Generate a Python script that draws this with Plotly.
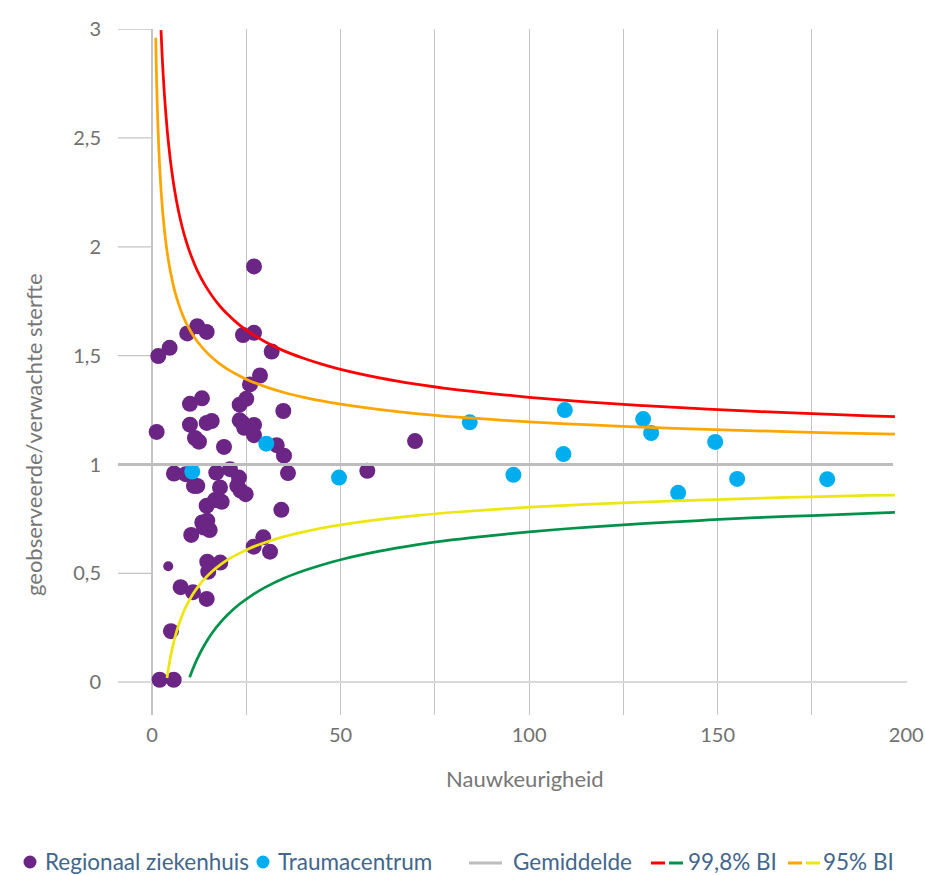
import plotly.graph_objects as go

# ---------------- data ----------------
regional_x = [9.36, 12.02, 14.51, 4.69, 1.67, 24.14, 27.06, 27.06, 31.75, 28.65,
              25.99, 25.01, 23.26, 13.26, 10.08, 34.83, 15.84, 14.51, 10.08, 23.26,
              23.95, 24.48, 27.06, 27.06, 1.25, 11.41, 12.47, 19.10, 33.08, 35.01,
              36.07, 5.84, 8.94, 17.06, 20.69, 23.08, 11.14, 12.02, 18.04, 22.63,
              23.53, 24.85, 14.51, 16.71, 18.49, 34.30, 13.34, 14.67, 13.79, 15.31,
              10.42, 29.52, 26.98, 31.30, 14.67, 18.12, 14.93, 4.32, 7.61, 10.88,
              14.51, 5.04, 2.04, 5.76, 57.11, 69.76]
regional_y = [1.602, 1.635, 1.609, 1.536, 1.498, 1.595, 1.605, 1.910, 1.519, 1.409,
              1.368, 1.302, 1.275, 1.304, 1.279, 1.246, 1.200, 1.191, 1.183, 1.203,
              1.192, 1.169, 1.182, 1.135, 1.150, 1.122, 1.105, 1.081, 1.089, 1.041,
              0.961, 0.959, 0.956, 0.963, 0.979, 0.940, 0.902, 0.902, 0.895, 0.902,
              0.880, 0.864, 0.811, 0.837, 0.829, 0.792, 0.734, 0.742, 0.711, 0.699,
              0.677, 0.666, 0.623, 0.600, 0.554, 0.550, 0.508, 0.533, 0.437, 0.414,
              0.383, 0.235, 0.012, 0.012, 0.971, 1.108]
small_point = 57  # the one marker drawn smaller in the reference

trauma_x = [10.69, 30.32, 49.60, 84.27, 95.84, 109.10, 109.47, 130.24, 132.36,
            139.52, 149.34, 155.17, 179.05]
trauma_y = [0.968, 1.096, 0.940, 1.194, 0.953, 1.048, 1.250, 1.209, 1.145,
            0.870, 1.104, 0.934, 0.933]

mean_x = [-9.0, 196.5]
mean_y = [1.0, 1.0]

up998_x = [2.4, 2.7, 3, 3.5, 4, 4.5, 5, 5.5, 6, 7, 8, 9, 10, 11, 12, 14, 16, 18, 20,
           23, 26, 30, 35, 40, 45, 50, 60, 70, 80, 90, 100, 115, 130, 145, 160, 175,
           190, 197]
up998_y = [2.995, 2.880, 2.784, 2.652, 2.545, 2.457, 2.382, 2.318, 2.261, 2.168,
           2.092, 2.030, 1.977, 1.932, 1.892, 1.826, 1.773, 1.728, 1.691, 1.644,
           1.606, 1.564, 1.522, 1.489, 1.461, 1.437, 1.399, 1.369, 1.345, 1.326,
           1.309, 1.288, 1.271, 1.257, 1.244, 1.234, 1.224, 1.220]
lo998_x = [10, 11, 12, 14, 16, 18, 20, 23, 26, 30, 35, 40, 45, 50, 60, 70, 80, 90,
           100, 115, 130, 145, 160, 175, 190, 197]
lo998_y = [0.023, 0.068, 0.108, 0.174, 0.228, 0.272, 0.309, 0.356, 0.394, 0.436,
           0.478, 0.511, 0.539, 0.563, 0.601, 0.631, 0.655, 0.674, 0.691, 0.712,
           0.729, 0.743, 0.756, 0.766, 0.776, 0.780]
up95_x = [1.0, 1.2, 1.4, 1.6, 1.8, 2, 2.3, 2.6, 3, 3.5, 4, 4.5, 5, 5.5, 6, 7, 8, 9,
          10, 11, 12, 14, 16, 18, 20, 23, 26, 30, 35, 40, 45, 50, 60, 70, 80, 90,
          100, 115, 130, 145, 160, 175, 190, 197]
up95_y = [2.960, 2.789, 2.657, 2.550, 2.461, 2.386, 2.292, 2.216, 2.132, 2.048,
          1.980, 1.924, 1.877, 1.836, 1.800, 1.741, 1.693, 1.653, 1.620, 1.591,
          1.566, 1.524, 1.490, 1.462, 1.438, 1.409, 1.384, 1.358, 1.331, 1.310,
          1.292, 1.277, 1.253, 1.234, 1.219, 1.207, 1.196, 1.183, 1.172, 1.163,
          1.155, 1.148, 1.142, 1.140]
lo95_x = [4, 4.5, 5, 5.5, 6, 7, 8, 9, 10, 11, 12, 14, 16, 18, 20, 23, 26, 30, 35,
          40, 45, 50, 60, 70, 80, 90, 100, 115, 130, 145, 160, 175, 190, 197]
lo95_y = [0.020, 0.076, 0.123, 0.164, 0.200, 0.259, 0.307, 0.347, 0.380, 0.409,
          0.434, 0.476, 0.510, 0.538, 0.562, 0.591, 0.616, 0.642, 0.669, 0.690,
          0.708, 0.723, 0.747, 0.766, 0.781, 0.793, 0.804, 0.817, 0.828, 0.837,
          0.845, 0.852, 0.858, 0.860]

y_tickvals = [0, 0.5, 1, 1.5, 2, 2.5, 3]
y_ticktext = ["0", "0,5", "1", "1,5", "2", "2,5", "3"]
x_tickvals = [0, 50, 100, 150, 200]
x_ticktext = ["0", "50", "100", "150", "200"]
x_minor_grid = [25, 75, 125, 175]

legend_labels = ["Regionaal ziekenhuis", "Traumacentrum", "Gemiddelde",
                 "99,8% BI", "95% BI"]

# ---------------- styles ----------------
PURPLE = "#6b2584"
CYAN = "#00aeef"
RED = "#ff0000"
GREEN = "#00924a"
ORANGE = "#ffa500"
YELLOW = "#ede611"
MEANC = "#bdbdbd"
GRID = "#c4c4c4"
FONT = "Lato"
TICKC = "#707070"
TITLEC = "#777777"
LEGC = "#42668c"

XMIN, XMAX = -9.0, 200.2
YMIN, YMAX = -0.15, 3.0
L, R, T, B = 118, 18, 29, 160
W, H = 925, 875
PW, PH = W - L - R, H - T - B

fig = go.Figure()

sizes = [16] * len(regional_x)
sizes[small_point] = 10
fig.add_trace(go.Scatter(x=regional_x, y=regional_y, mode="markers",
                         marker=dict(color=PURPLE, size=sizes, opacity=1, line=dict(width=0)),
                         name=legend_labels[0], showlegend=False))
fig.add_trace(go.Scatter(x=trauma_x, y=trauma_y, mode="markers",
                         marker=dict(color=CYAN, size=16, opacity=1, line=dict(width=0)),
                         name=legend_labels[1], showlegend=False))
fig.add_trace(go.Scatter(x=mean_x, y=mean_y, mode="lines",
                         line=dict(color=MEANC, width=3), showlegend=False))
for xs, ys, c in [(up998_x, up998_y, RED), (lo998_x, lo998_y, GREEN),
                  (up95_x, up95_y, ORANGE), (lo95_x, lo95_y, YELLOW)]:
    fig.add_trace(go.Scatter(x=xs, y=ys, mode="lines",
                             line=dict(color=c, width=2.75, shape="spline", smoothing=1.0),
                             showlegend=False))

shapes = []
# short horizontal tick marks left of the vertical axis
for v in y_tickvals[1:]:
    shapes.append(dict(type="line", xref="x", yref="y", x0=XMIN, x1=0, y0=v, y1=v,
                       line=dict(color=GRID, width=1.3), layer="below"))


def px2paper_x(px):
    return (px - L) / PW


def px2paper_y(py):
    return (H - B - py) / PH


annotations = []
# axis titles
annotations.append(dict(text="geobserveerde/verwachte sterfte", xref="paper", yref="paper",
                        x=px2paper_x(33), y=px2paper_y(435), textangle=-90,
                        showarrow=False, xanchor="center", yanchor="middle",
                        font=dict(family=FONT, size=22, color=TITLEC)))
annotations.append(dict(text="Nauwkeurigheid", xref="paper", yref="paper",
                        x=px2paper_x(525), y=px2paper_y(778),
                        showarrow=False, xanchor="center", yanchor="middle",
                        font=dict(family=FONT, size=22, color=TITLEC)))

# manual legend
LY = 861


def circle(cx, color, r=6.5):
    shapes.append(dict(type="circle", xref="paper", yref="paper",
                       x0=px2paper_x(cx - r), x1=px2paper_x(cx + r),
                       y0=px2paper_y(LY + r + 1), y1=px2paper_y(LY - r + 1),
                       fillcolor=color, line=dict(width=0)))


def seg(x0, x1, color, w=3):
    shapes.append(dict(type="line", xref="paper", yref="paper",
                       x0=px2paper_x(x0), x1=px2paper_x(x1),
                       y0=px2paper_y(LY + 2), y1=px2paper_y(LY + 2),
                       line=dict(color=color, width=w)))


def label(px, text):
    annotations.append(dict(text=text, xref="paper", yref="paper",
                            x=px2paper_x(px), y=px2paper_y(LY), showarrow=False,
                            xanchor="left", yanchor="middle",
                            font=dict(family=FONT, size=22.5, color=LEGC)))


circle(30, PURPLE)
label(43, legend_labels[0])
circle(263, CYAN)
label(276, legend_labels[1])
seg(469, 502, MEANC)
label(511, legend_labels[2])
seg(651, 665, RED)
seg(669, 683, GREEN)
label(686, legend_labels[3])
seg(788, 802, ORANGE)
seg(806, 820, YELLOW)
label(821, legend_labels[4])

fig.update_layout(
    width=W, height=H,
    margin=dict(l=L, r=R, t=T, b=B, pad=0),
    plot_bgcolor="white", paper_bgcolor="white",
    showlegend=False,
    shapes=shapes, annotations=annotations,
    font=dict(family=FONT, color=TICKC),
    xaxis=dict(range=[XMIN, XMAX], tickvals=x_tickvals, ticktext=x_ticktext,
               showgrid=True, gridcolor=GRID, gridwidth=1.3,
               minor=dict(tickvals=x_minor_grid, showgrid=True,
                          gridcolor=GRID, gridwidth=1.3),
               zeroline=True, zerolinecolor=GRID, zerolinewidth=1.5,
               showline=False, ticks="", automargin=False,
               tickfont=dict(family=FONT, size=20, color=TICKC),
               ticklabelstandoff=6, fixedrange=True),
    yaxis=dict(range=[YMIN, YMAX], tickvals=y_tickvals, ticktext=y_ticktext,
               showgrid=False, zeroline=True, zerolinecolor="#d9d9d9", zerolinewidth=2,
               showline=False, ticks="", automargin=False,
               tickfont=dict(family=FONT, size=20, color=TICKC),
               ticklabelstandoff=16, fixedrange=True),
)

fig.write_html("out.html", config={"displayModeBar": False},
               post_script="document.body.style.margin='0';")
